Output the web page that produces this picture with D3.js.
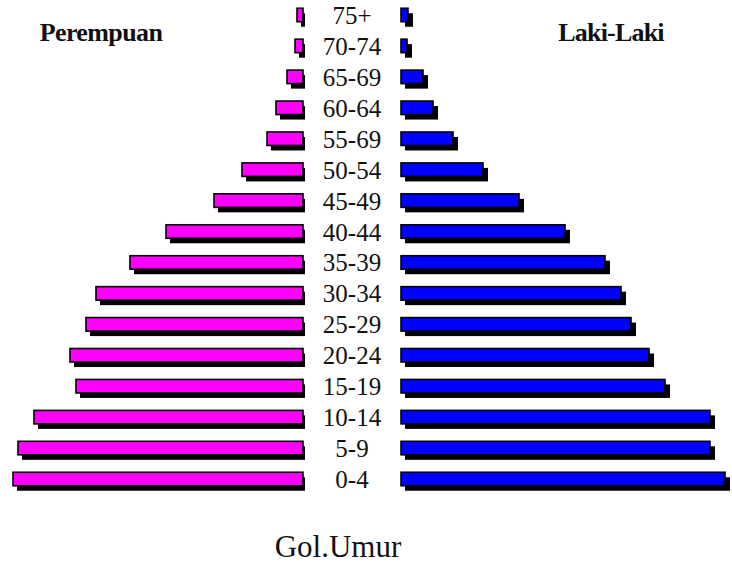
<!DOCTYPE html>
<html>
<head>
<meta charset="utf-8">
<script src="https://cdn.jsdelivr.net/npm/d3@7"></script>
<style>
html,body{margin:0;padding:0;background:#fff;}
svg{display:block;}
</style>
</head>
<body>
<svg id="chart" width="732" height="564"></svg>
<script>
// Age groups from top (oldest) to bottom (youngest)
const ageGroups = ["75+","70-74","65-69","60-64","55-69","50-54","45-49","40-44","35-39","30-34","25-29","20-24","15-19","10-14","5-9","0-4"];
// Perempuan (female) values, same order
const female = [0.6,0.8,1.6,2.7,3.6,6.1,8.9,13.7,17.3,20.7,21.7,23.3,22.7,26.9,28.5,29.0];
// Laki-Laki (male) values, same order
const male = [0.7,0.6,2.2,3.2,5.2,8.2,11.8,16.4,20.4,22.0,23.0,24.8,26.4,30.9,30.9,32.4];
const titleLeft = "Perempuan";
const titleRight = "Laki-Laki";
const axisTitle = "Gol.Umur";

const svg = d3.select("#chart");
const leftEdge = 303, rightEdge = 401, labelX = 352;
const barH = 13.5;
const serif = "'Liberation Serif','Times New Roman',Times,serif";

const x = d3.scaleLinear().domain([0, 35]).range([0, 350]);
const y = d3.scalePoint().domain(ageGroups).range([15, 479]);

const rows = ageGroups.map((g, i) => ({g, f: female[i], m: male[i]}));

// shadows
svg.append("g").selectAll("rect").data(rows).join("rect")
  .attr("x", d => leftEdge - x(d.f) + 4)
  .attr("y", d => y(d.g) - barH/2 + 5)
  .attr("width", d => Math.max(0, x(d.f) - 2))
  .attr("height", barH)
  .attr("fill", "#000");
svg.append("g").selectAll("rect").data(rows).join("rect")
  .attr("x", rightEdge + 4)
  .attr("y", d => y(d.g) - barH/2 + 5)
  .attr("width", d => x(d.m) + 1)
  .attr("height", barH)
  .attr("fill", "#000");

// bars
svg.append("g").selectAll("rect").data(rows).join("rect")
  .attr("x", d => leftEdge - x(d.f))
  .attr("y", d => y(d.g) - barH/2)
  .attr("width", d => x(d.f))
  .attr("height", barH)
  .attr("fill", "#FF00FF")
  .attr("stroke", "#000")
  .attr("stroke-width", 1.6);
svg.append("g").selectAll("rect").data(rows).join("rect")
  .attr("x", rightEdge)
  .attr("y", d => y(d.g) - barH/2)
  .attr("width", d => x(d.m))
  .attr("height", barH)
  .attr("fill", "#0000FF")
  .attr("stroke", "#000")
  .attr("stroke-width", 1.6);

// labels
svg.append("g").selectAll("text").data(rows).join("text")
  .attr("x", labelX)
  .attr("y", d => y(d.g) + 9)
  .attr("text-anchor", "middle")
  .attr("font-family", serif)
  .attr("font-size", 25)
  .attr("fill", "#111")
  .text(d => d.g);

svg.append("text")
  .attr("x", 101).attr("y", 41)
  .attr("text-anchor", "middle")
  .attr("font-family", serif)
  .attr("font-weight", "bold")
  .attr("font-size", 26)
  .attr("letter-spacing", -0.6)
  .attr("fill", "#111")
  .text(titleLeft);
svg.append("text")
  .attr("x", 611).attr("y", 41)
  .attr("text-anchor", "middle")
  .attr("font-family", serif)
  .attr("font-weight", "bold")
  .attr("font-size", 26)
  .attr("letter-spacing", -0.8)
  .attr("fill", "#111")
  .text(titleRight);

svg.append("text")
  .attr("x", 338).attr("y", 557)
  .attr("text-anchor", "middle")
  .attr("font-family", serif)
  .attr("font-size", 31)
  .attr("fill", "#111")
  .text(axisTitle);
</script>
</body>
</html>
